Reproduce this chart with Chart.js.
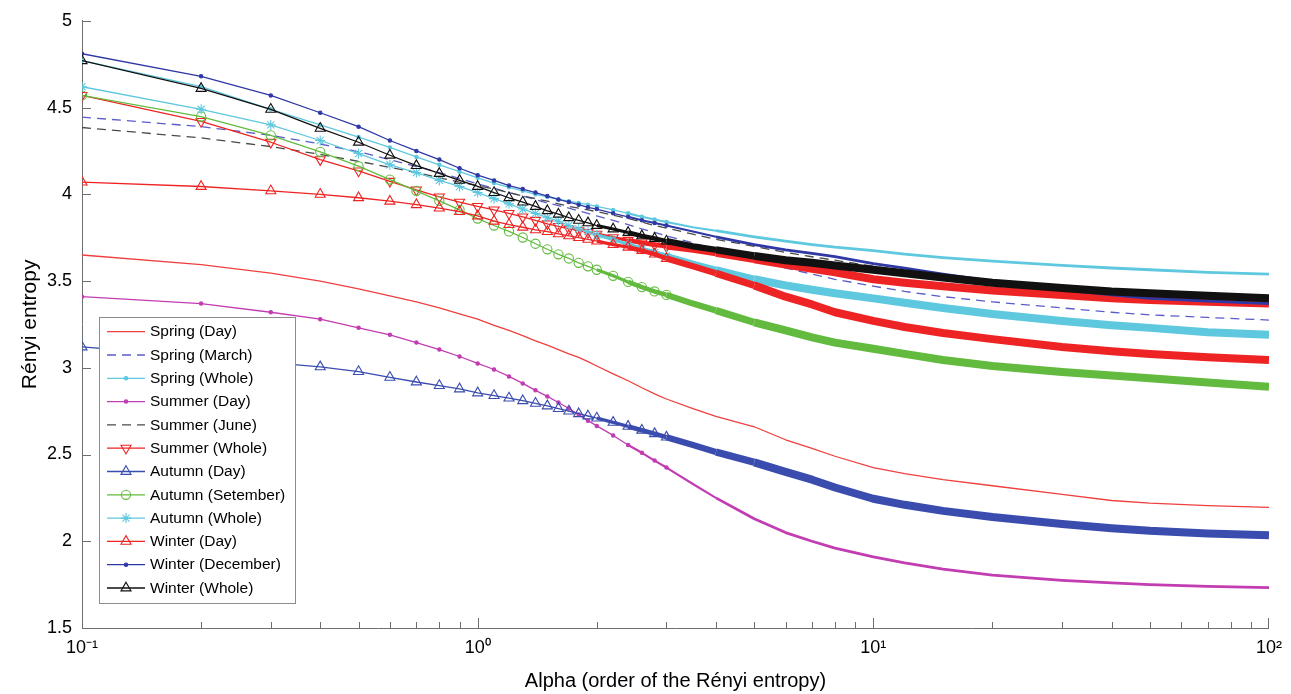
<!DOCTYPE html>
<html>
<head>
<meta charset="utf-8">
<title>Rényi entropy</title>
<script src="https://cdn.jsdelivr.net/npm/chart.js@4.4.0/dist/chart.umd.min.js"></script>
<style>
  html, body { margin: 0; padding: 0; background: #fff; }
  #wrap { width: 1291px; height: 694px; }
</style>
</head>
<body>
<div id="wrap"><canvas id="chart" width="1291" height="694"></canvas></div>
<script>
// alpha values the curves were read at
const alpha = [0.1, 0.2, 0.3, 0.4, 0.5, 0.6, 0.7, 0.8, 0.9, 1.0,
  1.1, 1.2, 1.3, 1.4, 1.5, 1.6, 1.7, 1.8, 1.9, 2.0,
  2.2, 2.4, 2.6, 2.8, 3.0, 3.5, 4, 5, 6, 7, 8,
  10, 12, 15, 20, 30, 40, 50, 70, 100];

const springDay = [3.65, 3.595, 3.545, 3.50, 3.455, 3.415, 3.38, 3.345, 3.31, 3.28,
  3.245, 3.215, 3.185, 3.155, 3.13, 3.105, 3.08, 3.06, 3.035, 3.01,
  2.965, 2.925, 2.885, 2.85, 2.82, 2.765, 2.72, 2.66, 2.585, 2.535, 2.49,
  2.425, 2.39, 2.355, 2.32, 2.27, 2.235, 2.22, 2.205, 2.195];
const springMarch = [4.445, 4.39, 4.34, 4.29, 4.245, 4.20, 4.16, 4.125, 4.09, 4.06,
  4.035, 4.01, 3.99, 3.97, 3.95, 3.935, 3.92, 3.905, 3.89, 3.875,
  3.85, 3.825, 3.80, 3.78, 3.76, 3.72, 3.68, 3.62, 3.575, 3.54, 3.51,
  3.47, 3.44, 3.41, 3.38, 3.345, 3.32, 3.305, 3.29, 3.275];
const springWhole = [4.77, 4.62, 4.49, 4.40, 4.33, 4.27, 4.215, 4.17, 4.13, 4.095,
  4.065, 4.04, 4.02, 4.00, 3.985, 3.97, 3.96, 3.95, 3.94, 3.93,
  3.91, 3.89, 3.87, 3.855, 3.84, 3.81, 3.79, 3.755, 3.73, 3.71, 3.695,
  3.675, 3.655, 3.635, 3.615, 3.59, 3.575, 3.565, 3.55, 3.54];
const summerDay = [3.41, 3.37, 3.32, 3.28, 3.23, 3.19, 3.145, 3.105, 3.065, 3.025,
  2.99, 2.95, 2.91, 2.87, 2.835, 2.80, 2.765, 2.73, 2.695, 2.665,
  2.61, 2.555, 2.51, 2.465, 2.425, 2.33, 2.25, 2.13, 2.05, 2.00, 1.96,
  1.91, 1.875, 1.84, 1.805, 1.775, 1.76, 1.75, 1.74, 1.733];
const summerJune = [4.385, 4.325, 4.275, 4.23, 4.19, 4.155, 4.125, 4.095, 4.07, 4.05,
  4.03, 4.01, 3.99, 3.975, 3.96, 3.945, 3.93, 3.92, 3.91, 3.90,
  3.88, 3.86, 3.84, 3.82, 3.805, 3.77, 3.74, 3.70, 3.665, 3.64, 3.62,
  3.585, 3.56, 3.535, 3.505, 3.47, 3.45, 3.435, 3.415, 3.40];
const summerWhole = [4.57, 4.42, 4.30, 4.20, 4.135, 4.075, 4.025, 3.985, 3.955, 3.93,
  3.91, 3.89, 3.87, 3.85, 3.83, 3.815, 3.80, 3.79, 3.78, 3.77,
  3.75, 3.735, 3.72, 3.71, 3.70, 3.68, 3.66, 3.625, 3.595, 3.57, 3.55,
  3.51, 3.49, 3.47, 3.445, 3.42, 3.40, 3.39, 3.38, 3.37];
const autumnDay = [3.12, 3.065, 3.03, 3.005, 2.978, 2.945, 2.918, 2.897, 2.878, 2.855,
  2.84, 2.825, 2.81, 2.795, 2.78, 2.765, 2.75, 2.735, 2.722, 2.71,
  2.685, 2.662, 2.64, 2.62, 2.60, 2.555, 2.515, 2.455, 2.40, 2.355, 2.31,
  2.245, 2.21, 2.175, 2.14, 2.10, 2.075, 2.06, 2.045, 2.035];
const autumnSept = [4.57, 4.448, 4.34, 4.245, 4.162, 4.085, 4.02, 3.962, 3.91, 3.86,
  3.82, 3.786, 3.751, 3.715, 3.683, 3.654, 3.63, 3.605, 3.585, 3.565,
  3.53, 3.495, 3.465, 3.44, 3.42, 3.37, 3.33, 3.262, 3.215, 3.175, 3.145,
  3.11, 3.08, 3.045, 3.01, 2.975, 2.955, 2.94, 2.915, 2.89];
const autumnWhole = [4.62, 4.49, 4.40, 4.31, 4.235, 4.17, 4.125, 4.08, 4.045, 4.01,
  3.975, 3.945, 3.915, 3.89, 3.865, 3.845, 3.82, 3.80, 3.785, 3.765,
  3.74, 3.71, 3.685, 3.665, 3.645, 3.60, 3.565, 3.51, 3.475, 3.45, 3.43,
  3.40, 3.375, 3.345, 3.31, 3.27, 3.245, 3.23, 3.205, 3.19];
const winterDay = [4.07, 4.045, 4.02, 4.00, 3.98, 3.96, 3.94, 3.92, 3.90, 3.875,
  3.845, 3.825, 3.81, 3.795, 3.785, 3.772, 3.76, 3.75, 3.74, 3.73,
  3.71, 3.695, 3.675, 3.655, 3.63, 3.585, 3.545, 3.475, 3.41, 3.365, 3.32,
  3.27, 3.235, 3.20, 3.165, 3.12, 3.095, 3.08, 3.06, 3.045];
const winterDec = [4.81, 4.68, 4.57, 4.47, 4.39, 4.31, 4.25, 4.20, 4.15, 4.11,
  4.08, 4.05, 4.03, 4.01, 3.99, 3.97, 3.955, 3.94, 3.925, 3.915,
  3.89, 3.87, 3.85, 3.835, 3.82, 3.785, 3.755, 3.71, 3.68, 3.66, 3.64,
  3.60, 3.575, 3.54, 3.50, 3.45, 3.42, 3.40, 3.385, 3.37];
const winterWhole = [4.77, 4.61, 4.49, 4.38, 4.30, 4.225, 4.165, 4.12, 4.08, 4.045,
  4.01, 3.98, 3.955, 3.93, 3.905, 3.885, 3.865, 3.85, 3.835, 3.82,
  3.80, 3.78, 3.76, 3.745, 3.73, 3.70, 3.68, 3.645, 3.62, 3.605, 3.59,
  3.565, 3.545, 3.52, 3.49, 3.46, 3.44, 3.43, 3.415, 3.40];

const seriesLabels = ['Spring (Day)', 'Spring (March)', 'Spring (Whole)', 'Summer (Day)',
  'Summer (June)', 'Summer (Whole)', 'Autumn (Day)', 'Autumn (Setember)', 'Autumn (Whole)',
  'Winter (Day)', 'Winter (December)', 'Winter (Whole)'];
const seriesValues = [springDay, springMarch, springWhole, summerDay, summerJune, summerWhole,
  autumnDay, autumnSept, autumnWhole, winterDay, winterDec, winterWhole];

const xTickValues = [0.1, 1, 10, 100];
const xTickText = { '0.1': '10\u207B\u00B9', '1': '10\u2070', '10': '10\u00B9', '100': '10\u00B2' };
const yTickValues = [1.5, 2, 2.5, 3, 3.5, 4, 4.5, 5];

// look of each series: colour, dash, marker
const looks = [
  { color: '#ef3f3f', dash: [], marker: null },
  { color: '#5c5cc8', dash: [9, 6], marker: null },
  { color: '#5ec8de', dash: [], marker: 'dot' },
  { color: '#c23cb2', dash: [], marker: 'dot' },
  { color: '#4a4a4a', dash: [9, 6], marker: null },
  { color: '#ee2424', dash: [], marker: 'triDown' },
  { color: '#3a4cae', dash: [], marker: 'tri' },
  { color: '#62bb3e', dash: [], marker: 'circle' },
  { color: '#5ec8de', dash: [], marker: 'star' },
  { color: '#ee2424', dash: [], marker: 'tri' },
  { color: '#2f38a4', dash: [], marker: 'dot' },
  { color: '#111111', dash: [], marker: 'tri' }
];

const markerDefs = {
  dot: { pointStyle: 'circle', radius: 1.7, rotation: 0, fill: true },
  tri: { pointStyle: 'triangle', radius: 5.8, rotation: 0, fill: false },
  triDown: { pointStyle: 'triangle', radius: 5.8, rotation: 180, fill: false },
  circle: { pointStyle: 'circle', radius: 4.6, rotation: 0, fill: false },
  star: { pointStyle: 'star', radius: 5, rotation: 0, fill: false }
};

const axisColor = '#6e6e6e';
const fontFamily = "'Liberation Sans', Arial, sans-serif";

function lineWidthFor(marker, x0) {
  // markers packed side by side on the right read as a thick band
  if (marker === 'tri' || marker === 'triDown' || marker === 'circle' || marker === 'star') {
    if (x0 >= 5) return 8;
    if (x0 >= 4) return 7.2;
    if (x0 >= 3) return 6.2;
    if (x0 >= 2.4) return 4.6;
    if (x0 >= 2) return 3.2;
    return 1.3;
  }
  if (marker === 'dot') {
    if (x0 >= 4) return 2.8;
    if (x0 >= 2.4) return 2.1;
    return 1.3;
  }
  return 1.3;
}

const datasets = seriesValues.map((vals, i) => {
  const look = looks[i];
  const m = look.marker ? markerDefs[look.marker] : null;
  return {
    label: seriesLabels[i],
    data: vals.map((v, k) => ({ x: alpha[k], y: v })),
    borderColor: look.color,
    borderDash: look.dash,
    borderWidth: 1.3,
    borderCapStyle: 'butt',
    borderJoinStyle: 'round',
    tension: 0,
    fill: false,
    order: -i,
    marker: look.marker,
    pointStyle: m ? m.pointStyle : 'circle',
    pointRotation: m ? m.rotation : 0,
    pointRadius: c => (m && c.raw && c.raw.x <= 3.01) ? m.radius : 0,
    pointBorderWidth: 1.1,
    pointBorderColor: look.color,
    pointBackgroundColor: m && m.fill ? look.color : 'rgba(0,0,0,0)',
    segment: {
      borderWidth: c => lineWidthFor(look.marker, c.p0.parsed.x)
    }
  };
});

// MATLAB style ticks pointing into the plot
const inwardTicks = {
  id: 'inwardTicks',
  afterDatasetsDraw(chart) {
    const { ctx, chartArea: a, scales: { x, y } } = chart;
    ctx.save();
    ctx.strokeStyle = axisColor;
    ctx.lineWidth = 1;
    ctx.beginPath();
    yTickValues.forEach(v => {
      const py = Math.round(y.getPixelForValue(v)) + 0.5;
      ctx.moveTo(a.left, py);
      ctx.lineTo(a.left + 9, py);
    });
    [0.1, 1, 10].forEach(dec => {
      for (let m = 1; m <= 9; m++) {
        const px = Math.round(x.getPixelForValue(dec * m)) + 0.5;
        ctx.moveTo(px, a.bottom);
        ctx.lineTo(px, a.bottom - (m === 1 ? 10 : 6));
      }
    });
    const pEnd = Math.round(x.getPixelForValue(100)) - 0.5;
    ctx.moveTo(pEnd, a.bottom);
    ctx.lineTo(pEnd, a.bottom - 10);
    ctx.stroke();
    ctx.restore();
  }
};

// legend box inside the plot, lower left
const boxLegend = {
  id: 'boxLegend',
  afterDraw(chart) {
    const ctx = chart.ctx;
    const left = 99.5, top = 317.5, w = 196, h = 286;
    ctx.save();
    ctx.fillStyle = '#ffffff';
    ctx.fillRect(left, top, w, h);
    ctx.strokeStyle = '#8c8c8c';
    ctx.lineWidth = 1;
    ctx.strokeRect(left, top, w, h);
    chart.data.datasets.forEach((ds, i) => {
      const yy = 331.7 + i * 23.3;
      ctx.strokeStyle = ds.borderColor;
      ctx.lineWidth = 1.3;
      ctx.setLineDash(ds.borderDash);
      ctx.beginPath();
      ctx.moveTo(107, yy);
      ctx.lineTo(145, yy);
      ctx.stroke();
      ctx.setLineDash([]);
      if (ds.marker) {
        const m = markerDefs[ds.marker];
        ctx.fillStyle = m.fill ? ds.borderColor : 'rgba(0,0,0,0)';
        ctx.lineWidth = 1.1;
        Chart.helpers.drawPoint(ctx, { pointStyle: m.pointStyle, radius: m.radius, rotation: m.rotation, borderWidth: 1.1 }, 126, yy);
      }
      ctx.fillStyle = '#000';
      ctx.font = '15.5px ' + fontFamily;
      ctx.textBaseline = 'middle';
      ctx.textAlign = 'left';
      ctx.fillText(ds.label, 150, yy + 0.5);
    });
    ctx.restore();
  }
};

new Chart(document.getElementById('chart').getContext('2d'), {
  type: 'line',
  data: { datasets: datasets },
  options: {
    responsive: false,
    animation: false,
    events: [],
    layout: { padding: { top: 17, right: 21, left: 0, bottom: 0 } },
    plugins: {
      legend: { display: false },
      tooltip: { enabled: false }
    },
    scales: {
      x: {
        type: 'logarithmic',
        min: 0.1,
        max: 100,
        afterBuildTicks: s => { s.ticks = xTickValues.map(v => ({ value: v })); },
        afterFit: s => { s.height = 66; },
        ticks: {
          autoSkip: false,
          maxRotation: 0,
          padding: 9,
          color: '#000',
          font: { family: fontFamily, size: 18 },
          callback: v => xTickText[String(v)]
        },
        grid: { drawOnChartArea: false, drawTicks: false },
        border: { color: axisColor, width: 1 },
        title: {
          display: true,
          text: 'Alpha (order of the Rényi entropy)',
          color: '#000',
          font: { family: fontFamily, size: 20 },
          padding: { top: 0, bottom: 1 }
        }
      },
      y: {
        type: 'linear',
        min: 1.5,
        max: 5,
        afterFit: s => { s.width = 82; },
        ticks: {
          stepSize: 0.5,
          padding: 10,
          color: '#000',
          font: { family: fontFamily, size: 18 },
          callback: v => String(Math.round(v * 10) / 10)
        },
        grid: { drawOnChartArea: false, drawTicks: false },
        border: { color: axisColor, width: 1 },
        title: {
          display: true,
          text: 'Rényi entropy',
          color: '#000',
          font: { family: fontFamily, size: 21 },
          padding: { top: 18, bottom: 0 }
        }
      }
    }
  },
  plugins: [inwardTicks, boxLegend]
});
</script>
</body>
</html>
